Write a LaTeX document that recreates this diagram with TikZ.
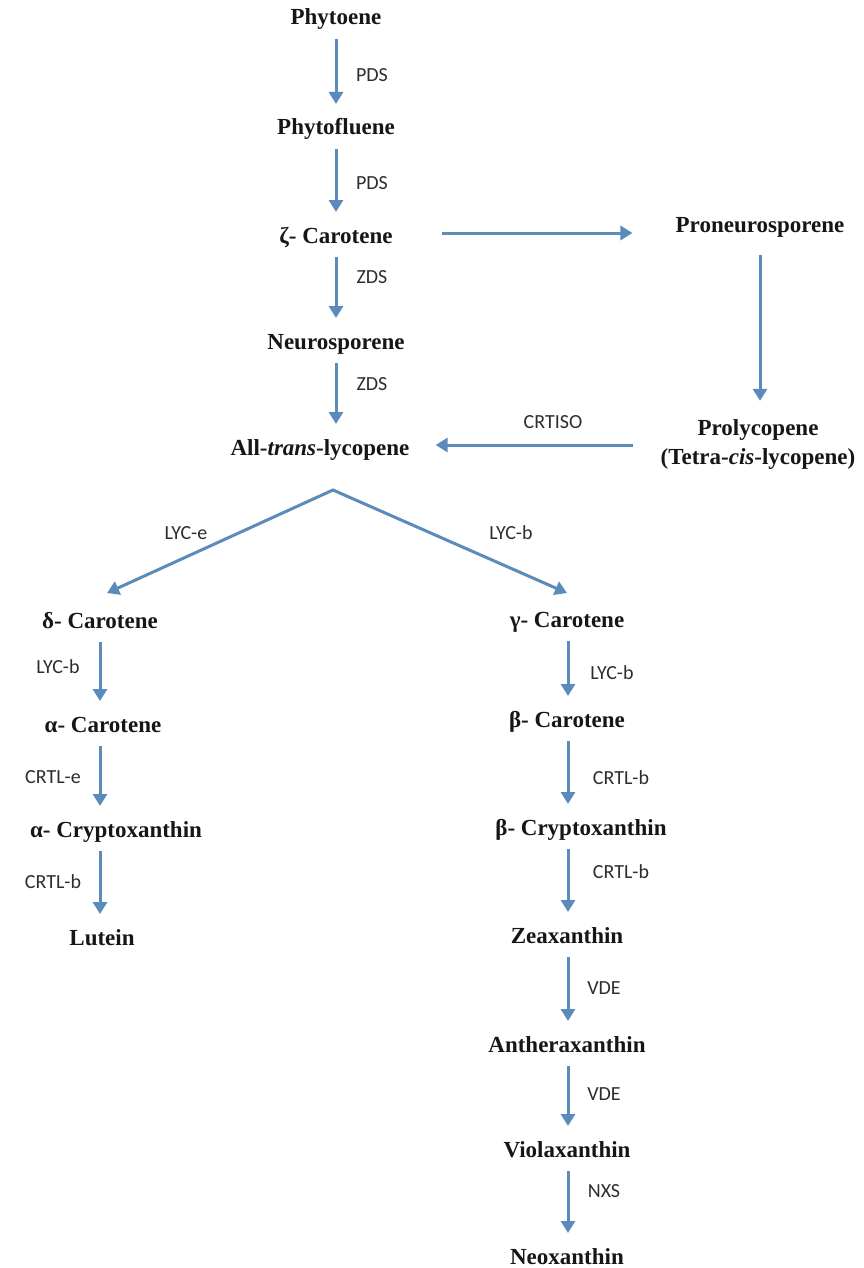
\documentclass[tikz,border=0pt]{standalone}
\usepackage{fontspec}
\newfontfamily\chemfont{Liberation Serif}
\newfontfamily\enzfont{Carlito}
\usetikzlibrary{arrows.meta,calc}
\definecolor{arrowblue}{RGB}{91,139,186}
\definecolor{inkdark}{RGB}{22,22,22}

\begin{document}
\begin{tikzpicture}[x=1pt,y=-1pt,
  compound/.style={font=\chemfont\bfseries\fontsize{23}{29}\selectfont,
    text=inkdark, inner sep=0pt, text height=17pt, text depth=3pt},
  compoundpair/.style={font=\chemfont\bfseries\fontsize{23}{29}\selectfont,
    text=inkdark, inner sep=0pt, align=center},
  enzyme/.style={font=\enzfont\fontsize{20}{24}\selectfont,
    text=inkdark!90, inner sep=0pt},
  pathway/.style={draw=arrowblue, line width=3pt, line join=miter,
    -{Triangle[width=14pt,length=12pt]}},
  forked/.style={draw=arrowblue, line width=3pt, line join=miter,
    {Triangle[width=14pt,length=12pt]}-{Triangle[width=14pt,length=12pt]}},
]
\useasboundingbox (0,0) rectangle (863,1268);

% column axes for the vertical arrows
\coordinate (colL) at (100,0);
\coordinate (colM) at (336,0);
\coordinate (colR) at (568,0);
\coordinate (colP) at (760,0);

% main trunk
\node[compound] (phytoene)    at (336,18)  {Phytoene};
\node[compound] (phytofluene) at (336,128) {Phytofluene};
\node[compound] (zeta)        at (336,236) {ζ- Carotene};
\node[compound] (neuro)       at (336,342) {Neurosporene};
\node[compound] (lyco)        at (320,448) {All-\textit{trans}-lycopene};

% side loop through the poly-cis intermediates
\node[compound] (proneuro)    at (760,225) {Proneurosporene};
\node[compoundpair] (prolyco) at (758,444) {Prolycopene\\(Tetra-\textit{cis}-lycopene)};

% epsilon branch
\node[compound] (delta)   at (100,621) {δ- Carotene};
\node[compound] (alpha)   at (103,725) {α- Carotene};
\node[compound] (acrypt)  at (116,830) {α- Cryptoxanthin};
\node[compound] (lutein)  at (102,938) {Lutein};

% beta branch
\node[compound] (gamma)   at (567,620)  {γ- Carotene};
\node[compound] (beta)    at (567,720)  {β- Carotene};
\node[compound] (bcrypt)  at (581,828)  {β- Cryptoxanthin};
\node[compound] (zea)     at (567,936)  {Zeaxanthin};
\node[compound] (anthera) at (567,1045) {Antheraxanthin};
\node[compound] (viola)   at (567,1150) {Violaxanthin};
\node[compound] (neox)    at (567,1257) {Neoxanthin};

% enzyme labels
\node[enzyme] (e1)  at (372,75)   {PDS};
\node[enzyme] (e2)  at (372,183)  {PDS};
\node[enzyme] (e3)  at (372,277)  {ZDS};
\node[enzyme] (e4)  at (372,384)  {ZDS};
\node[enzyme] (e5)  at (553,422)  {CRTISO};
\node[enzyme] (e6)  at (186,533)  {LYC-e};
\node[enzyme] (e7)  at (511,533)  {LYC-b};
\node[enzyme] (e8)  at (58,667)   {LYC-b};
\node[enzyme] (e9)  at (53,777)   {CRTL-e};
\node[enzyme] (e10) at (53,882)   {CRTL-b};
\node[enzyme] (e11) at (612,673)  {LYC-b};
\node[enzyme] (e12) at (621,778)  {CRTL-b};
\node[enzyme] (e13) at (621,872)  {CRTL-b};
\node[enzyme] (e14) at (604,988)  {VDE};
\node[enzyme] (e15) at (604,1094) {VDE};
\node[enzyme] (e16) at (604,1191) {NXS};

% vertical step between two compounds along a column
\newcommand\pathstep[3]{%
  \draw[pathway] ($(#1.center -| #3)+(0,21)$) -- ($(#2.center -| #3)+(0,-24)$);}

\pathstep{phytoene}{phytofluene}{colM}
\pathstep{phytofluene}{zeta}{colM}
\pathstep{zeta}{neuro}{colM}
\pathstep{neuro}{lyco}{colM}

\pathstep{delta}{alpha}{colL}
\pathstep{alpha}{acrypt}{colL}
\pathstep{acrypt}{lutein}{colL}

\pathstep{gamma}{beta}{colR}
\pathstep{beta}{bcrypt}{colR}
\pathstep{bcrypt}{zea}{colR}
\pathstep{zea}{anthera}{colR}
\pathstep{anthera}{viola}{colR}
\pathstep{viola}{neox}{colR}

% zeta-carotene to proneurosporene
\coordinate (zstart) at ($(zeta.east)+(49,-3)$);
\draw[pathway] (zstart) -- ($(zstart -| proneuro.west)+(-43,0)$);

% proneurosporene down to prolycopene
\draw[pathway] ($(proneuro.center -| colP)+(0,30)$) -- ($(prolyco.north -| colP)+(0,-18)$);

% CRTISO isomerisation back to all-trans-lycopene
\draw[pathway] ($(prolyco.west)+(-28,1)$) -- ($(lyco.east |- prolyco.west)+(26,1)$);

% cyclase fork
\coordinate (apex) at ($(lyco.center)+(13,42)$);
\draw[forked] ($(delta.center)+(7,-28)$) -- (apex) -- ($(gamma.center)+(0,-27)$);

\end{tikzpicture}
\end{document}
